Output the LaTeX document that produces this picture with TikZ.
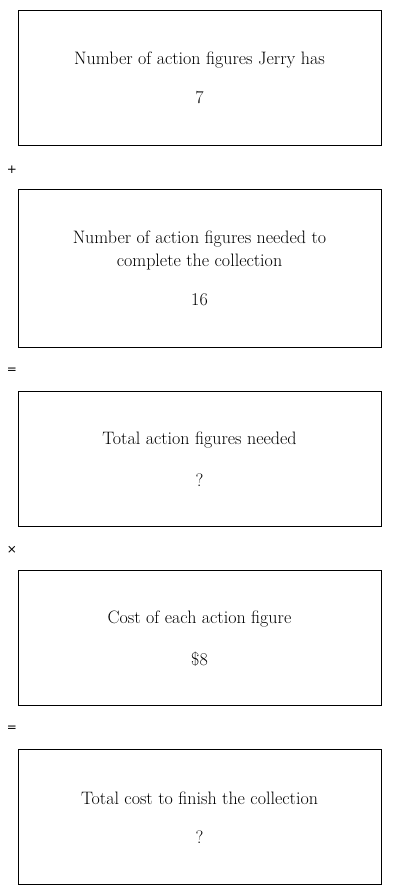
\documentclass[tikz,border=0pt]{standalone}
\usepackage{fontspec}
\newfontfamily\opfont{DejaVu Sans}
\begin{document}
\begin{tikzpicture}[x=1pt,y=-1pt,
  stepbox/.style={draw=black,line width=0.8pt},
  lbl/.style={font=\fontsize{18}{23}\selectfont,align=center,inner sep=0pt},
  op/.style={font=\opfont\fontsize{12}{14}\selectfont,inner sep=0pt}]
\useasboundingbox[fill=white] (0,0) rectangle (400,895);
\draw[stepbox] (18,10) rectangle (381,145);
\node[lbl] (t1) at (199.5,60) {Number of action figures Jerry has};
\node[lbl] (v1) at (199.5,98) {7};
\node[op] (o1) at (12,170) {+};
\draw[stepbox] (18,189) rectangle (381,347);
\node[lbl] (t2) at (199.5,250.5) {Number of action figures needed to\\complete the collection};
\node[lbl] (v2) at (199.5,300) {16};
\node[op] (o2) at (12,371) {=};
\draw[stepbox] (18,391) rectangle (381,526);
\node[lbl] (t3) at (199.5,440) {Total action figures needed};
\node[lbl] (v3) at (199.5,480) {?};
\node[op] (o3) at (12,550) {×};
\draw[stepbox] (18,570) rectangle (381,705);
\node[lbl] (t4) at (199.5,619) {Cost of each action figure};
\node[lbl] (v4) at (199.5,659) {\$8};
\node[op] (o4) at (12,729) {=};
\draw[stepbox] (18,749) rectangle (381,884);
\node[lbl] (t5) at (199.5,798) {Total cost to finish the collection};
\node[lbl] (v5) at (199.5,837) {?};
\end{tikzpicture}
\end{document}
